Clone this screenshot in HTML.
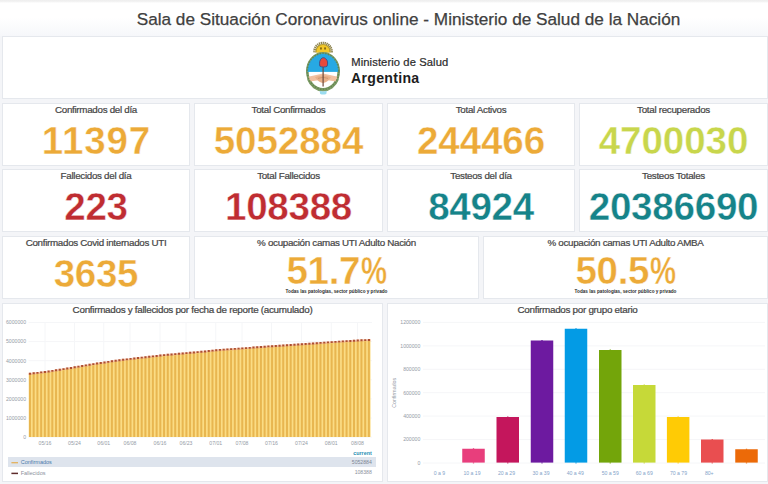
<!DOCTYPE html>
<html lang="es"><head><meta charset="utf-8"><title>Sala de Situación Coronavirus online</title>
<style>
*{margin:0;padding:0;box-sizing:border-box}
html,body{width:768px;height:484px;overflow:hidden}
body{background:#f4f5f8;font-family:"Liberation Sans",sans-serif;position:relative;color:#464646}
.topstrip{position:absolute;left:0;top:0;width:768px;height:3px;background:linear-gradient(#eee 0,#f3f3f3 1.6px,#fff 3px);z-index:2}
.nav{position:absolute;left:0;top:2px;width:768px;height:34px;background:linear-gradient(#fff 0,#fff 16px,#f6f7fa 34px)}
.title{position:absolute;left:136px;top:8px;width:545px;height:22px;line-height:22px;font-size:17.2px;white-space:nowrap;color:#404040;text-align:center;-webkit-text-stroke:.25px #404040}
.p{position:absolute;background:#fff;border:1px solid #e5e8ed}
.pt{position:absolute;left:0;right:0;top:-1.4px;height:14px;line-height:14px;font-size:9.8px;letter-spacing:-0.3px;-webkit-text-stroke:.22px #464646;text-align:center;white-space:nowrap;color:#464646}
.v{position:absolute;left:0;right:0;top:17.8px;height:38px;line-height:38px;font-size:38.6px;font-weight:bold;text-align:center;white-space:nowrap;-webkit-text-stroke:.4px #fff;letter-spacing:-.32px}
.v2{top:14.6px}
.pc{display:inline-block;transform:scaleX(.76);transform-origin:0 50%;margin-right:-8.2px;margin-left:.6px}
.sub{position:absolute;left:0;right:0;top:51.2px;height:8px;line-height:8px;font-size:4.65px;text-align:center;white-space:nowrap;color:#2a2a2a;font-weight:bold}
.ct{position:absolute;left:0;right:0;top:-1.3px;height:14px;line-height:14px;font-size:9.9px;letter-spacing:-0.3px;-webkit-text-stroke:.22px #464646;text-align:center;white-space:nowrap;color:#464646}
svg{position:absolute;left:0;top:0}
svg text{font-family:"Liberation Sans",sans-serif}
</style></head>
<body>
<div class="topstrip"></div><div class="nav"></div>
<div class="title">Sala de Situación Coronavirus online - Ministerio de Salud de la Nación</div>
<div class="p" style="left:2px;top:36px;width:766px;height:63px">
<svg width="764" height="61" viewBox="3 37 764 61">
<defs>
<clipPath id="ovc"><ellipse cx="323" cy="71.3" rx="15.4" ry="17.7"/></clipPath>
<clipPath id="sunc"><rect x="310" y="38" width="26" height="14.4"/></clipPath>
</defs>
<g clip-path="url(#sunc)">
<circle cx="323" cy="51.6" r="8.6" fill="none" stroke="#80743a" stroke-width="2.6" stroke-dasharray="1.3 .6" opacity=".9"/>
<circle cx="323" cy="51.6" r="7.6" fill="#b39a2c"/>
<circle cx="323" cy="51.4" r="6.4" fill="#f3c829"/>
<rect x="320" y="47.4" width="1.9" height="2.1" fill="#8a6a10"/>
<rect x="324.1" y="47.4" width="1.9" height="2.1" fill="#8a6a10"/>
</g>
<ellipse cx="323" cy="71.3" rx="15.7" ry="18" fill="#fff" stroke="#7c9b66" stroke-width="2.6"/>
<path d="M308.6 79 A15.7 18 0 0 0 337.4 79" fill="none" stroke="#7c9b66" stroke-width="3.3"/>
<g clip-path="url(#ovc)">
<rect x="305" y="50" width="36" height="21.9" fill="#27a9e3"/>
<path d="M307 77 L323 73.6 L339 77 L339 82 L323 79.6 L307 82Z" fill="#f2c0a0"/>
<path d="M315 77.2 Q323 73.4 331 77.2 Q327 82.6 323 83 Q319 82.6 315 77.2Z" fill="#e8b08a"/>
<path d="M318 78.4 Q323 76.2 328 78.4" stroke="#c98f68" stroke-width=".8" fill="none"/>
</g>
<path d="M323.1 67 L323.1 86.6" stroke="#6e4a3c" stroke-width="1.2" fill="none"/>
<path d="M319.9 66.2 C318.9 63 319.9 59 322.1 58 C323.5 57.4 325 57.8 325.8 58.9 C327.7 60 328.1 63.5 327.1 66.2 C325 67.3 322 67.3 319.9 66.2Z" fill="#e8483a" stroke="#35508f" stroke-width=".9"/>
<ellipse cx="323" cy="71.3" rx="15.7" ry="18" fill="none" stroke="#5d7d48" stroke-width="1.6" stroke-dasharray="1.3 1.5" opacity=".75"/>
<path d="M319.6 90.8 Q323.2 92.4 326.8 90.8 L326.3 93.9 Q323.2 95.2 320.2 93.9Z" fill="#9adcf0"/>
<text x="351.3" y="65.6" font-size="11.2" fill="#2c2c2c" letter-spacing="0.1" stroke="#2c2c2c" stroke-width=".22">Ministerio de Salud</text>
<text x="351" y="82.8" font-size="14.1" font-weight="bold" fill="#1d1d1d" letter-spacing="0.3">Argentina</text>
</svg>
</div>
<div class="p" style="left:2px;top:103px;width:188px;height:63px"><div class="pt">Confirmados del día</div><div class="v" style="color:#ecaa38;letter-spacing:0.8px;padding-left:0.8px">11397</div></div>
<div class="p" style="left:194px;top:103px;width:189px;height:63px"><div class="pt">Total Confirmados</div><div class="v" style="color:#ecaa38;letter-spacing:-0.1px;padding-left:-0.1px">5052884</div></div>
<div class="p" style="left:387px;top:103px;width:188px;height:63px"><div class="pt">Total Activos</div><div class="v" style="color:#ecaa38;letter-spacing:-0.1px;padding-left:-0.1px">244466</div></div>
<div class="p" style="left:579px;top:103px;width:189px;height:63px"><div class="pt">Total recuperados</div><div class="v" style="color:#c8d64c;letter-spacing:-0.1px;padding-left:-0.1px">4700030</div></div>
<div class="p" style="left:2px;top:169px;width:188px;height:63px"><div class="pt">Fallecidos del día</div><div class="v" style="color:#bf2d32">223</div></div>
<div class="p" style="left:194px;top:169px;width:189px;height:63px"><div class="pt">Total Fallecidos</div><div class="v" style="color:#bf2d32">108388</div></div>
<div class="p" style="left:387px;top:169px;width:188px;height:63px"><div class="pt">Testeos del día</div><div class="v" style="color:#168389">84924</div></div>
<div class="p" style="left:579px;top:169px;width:189px;height:63px"><div class="pt">Testeos Totales</div><div class="v" style="color:#168389;letter-spacing:-0.25px;padding-left:-0.25px">20386690</div></div>
<div class="p" style="left:2px;top:236px;width:188px;height:63px"><div class="pt">Confirmados Covid internados UTI</div><div class="v" style="color:#ecaa38">3635</div></div>
<div class="p" style="left:194px;top:236px;width:285px;height:63px"><div class="pt">% ocupación camas UTI Adulto Nación</div><div class="v v2" style="color:#ecaa38">51.7<span class=pc>%</span></div><div class="sub">Todas las patologías, sector público y privado</div></div>
<div class="p" style="left:483px;top:236px;width:285px;height:63px"><div class="pt">% ocupación camas UTI Adulto AMBA</div><div class="v v2" style="color:#ecaa38">50.5<span class=pc>%</span></div><div class="sub">Todas las patologías, sector público y privado</div></div>
<div class="p" style="left:2px;top:303px;width:381px;height:179px">
<div class="ct">Confirmados y fallecidos por fecha de reporte (acumulado)</div>
<svg width="379" height="177" viewBox="3 304 379 177">
<path d="M28.5 437.1H372" stroke="#f5f6f8" stroke-width="1"/>
<path d="M28.5 418.0H372" stroke="#f5f6f8" stroke-width="1"/>
<path d="M28.5 398.9H372" stroke="#f5f6f8" stroke-width="1"/>
<path d="M28.5 379.8H372" stroke="#f5f6f8" stroke-width="1"/>
<path d="M28.5 360.7H372" stroke="#f5f6f8" stroke-width="1"/>
<path d="M28.5 341.6H372" stroke="#f5f6f8" stroke-width="1"/>
<path d="M28.5 322.5H372" stroke="#f5f6f8" stroke-width="1"/>
<path d="M45 322.5V437.1" stroke="#f5f6f8" stroke-width="1"/>
<path d="M74.5 322.5V437.1" stroke="#f5f6f8" stroke-width="1"/>
<path d="M103.75 322.5V437.1" stroke="#f5f6f8" stroke-width="1"/>
<path d="M130 322.5V437.1" stroke="#f5f6f8" stroke-width="1"/>
<path d="M160 322.5V437.1" stroke="#f5f6f8" stroke-width="1"/>
<path d="M186 322.5V437.1" stroke="#f5f6f8" stroke-width="1"/>
<path d="M215.75 322.5V437.1" stroke="#f5f6f8" stroke-width="1"/>
<path d="M242 322.5V437.1" stroke="#f5f6f8" stroke-width="1"/>
<path d="M271.5 322.5V437.1" stroke="#f5f6f8" stroke-width="1"/>
<path d="M301.5 322.5V437.1" stroke="#f5f6f8" stroke-width="1"/>
<path d="M331.25 322.5V437.1" stroke="#f5f6f8" stroke-width="1"/>
<path d="M357.5 322.5V437.1" stroke="#f5f6f8" stroke-width="1"/>
<text x="26" y="438.9" font-size="5.15" text-anchor="end" fill="#959ba6">0</text>
<text x="26" y="419.8" font-size="5.15" text-anchor="end" fill="#959ba6">1000000</text>
<text x="26" y="400.7" font-size="5.15" text-anchor="end" fill="#959ba6">2000000</text>
<text x="26" y="381.6" font-size="5.15" text-anchor="end" fill="#959ba6">3000000</text>
<text x="26" y="362.5" font-size="5.15" text-anchor="end" fill="#959ba6">4000000</text>
<text x="26" y="343.4" font-size="5.15" text-anchor="end" fill="#959ba6">5000000</text>
<text x="26" y="324.3" font-size="5.15" text-anchor="end" fill="#959ba6">6000000</text>
<text x="45" y="444.9" font-size="5.15" text-anchor="middle" fill="#959ba6">05/16</text>
<text x="74.5" y="444.9" font-size="5.15" text-anchor="middle" fill="#959ba6">05/24</text>
<text x="103.75" y="444.9" font-size="5.15" text-anchor="middle" fill="#959ba6">06/01</text>
<text x="130" y="444.9" font-size="5.15" text-anchor="middle" fill="#959ba6">06/08</text>
<text x="160" y="444.9" font-size="5.15" text-anchor="middle" fill="#959ba6">06/16</text>
<text x="186" y="444.9" font-size="5.15" text-anchor="middle" fill="#959ba6">06/23</text>
<text x="215.75" y="444.9" font-size="5.15" text-anchor="middle" fill="#959ba6">07/01</text>
<text x="242" y="444.9" font-size="5.15" text-anchor="middle" fill="#959ba6">07/08</text>
<text x="271.5" y="444.9" font-size="5.15" text-anchor="middle" fill="#959ba6">07/16</text>
<text x="301.5" y="444.9" font-size="5.15" text-anchor="middle" fill="#959ba6">07/24</text>
<text x="331.25" y="444.9" font-size="5.15" text-anchor="middle" fill="#959ba6">08/01</text>
<text x="357.5" y="444.9" font-size="5.15" text-anchor="middle" fill="#959ba6">08/08</text>
<polygon points="28.8,437.1 28.76,374.19 31.56,374.19 32.48,373.75 35.28,373.75 36.21,373.30 39.01,373.30 39.93,372.85 42.73,372.85 43.66,372.40 46.46,372.40 47.38,371.91 50.18,371.91 51.11,371.33 53.91,371.33 54.83,370.74 57.63,370.74 58.56,370.15 61.36,370.15 62.28,369.57 65.08,369.57 66.01,368.98 68.81,368.98 69.73,368.39 72.53,368.39 73.46,367.76 76.26,367.76 77.18,367.12 79.98,367.12 80.90,366.48 83.70,366.48 84.63,365.85 87.43,365.85 88.35,365.21 91.15,365.21 92.08,364.57 94.88,364.57 95.80,364.00 98.60,364.00 99.53,363.44 102.33,363.44 103.25,362.88 106.05,362.88 106.98,362.32 109.78,362.32 110.70,361.77 113.50,361.77 114.43,361.21 117.23,361.21 118.15,360.70 120.95,360.70 121.88,360.26 124.68,360.26 125.60,359.82 128.40,359.82 129.32,359.37 132.12,359.37 133.05,358.93 135.85,358.93 136.77,358.48 139.57,358.48 140.50,358.04 143.30,358.04 144.22,357.63 147.02,357.63 147.95,357.22 150.75,357.22 151.67,356.80 154.47,356.80 155.40,356.39 158.20,356.39 159.12,355.98 161.92,355.98 162.85,355.56 165.65,355.56 166.57,355.22 169.37,355.22 170.30,354.88 173.10,354.88 174.02,354.55 176.82,354.55 177.74,354.21 180.54,354.21 181.47,353.88 184.27,353.88 185.19,353.54 187.99,353.54 188.92,353.21 191.72,353.21 192.64,352.89 195.44,352.89 196.37,352.56 199.17,352.56 200.09,352.24 202.89,352.24 203.82,351.89 206.62,351.89 207.54,351.51 210.34,351.51 211.27,351.12 214.07,351.12 214.99,350.73 217.79,350.73 218.72,350.36 221.52,350.36 222.44,350.11 225.24,350.11 226.16,349.86 228.96,349.86 229.89,349.60 232.69,349.60 233.61,349.35 236.41,349.35 237.34,349.10 240.14,349.10 241.06,348.84 243.86,348.84 244.79,348.56 247.59,348.56 248.51,348.28 251.31,348.28 252.24,347.99 255.04,347.99 255.96,347.70 258.76,347.70 259.69,347.42 262.49,347.42 263.41,347.13 266.21,347.13 267.14,346.87 269.94,346.87 270.86,346.63 273.66,346.63 274.58,346.39 277.38,346.39 278.31,346.15 281.11,346.15 282.03,345.91 284.83,345.91 285.76,345.68 288.56,345.68 289.48,345.43 292.28,345.43 293.21,345.18 296.01,345.18 296.93,344.93 299.73,344.93 300.66,344.67 303.46,344.67 304.38,344.42 307.18,344.42 308.11,344.17 310.91,344.17 311.83,343.91 314.63,343.91 315.56,343.64 318.36,343.64 319.28,343.37 322.08,343.37 323.00,343.10 325.80,343.10 326.73,342.83 329.53,342.83 330.45,342.56 333.25,342.56 334.18,342.29 336.98,342.29 337.90,342.05 340.70,342.05 341.63,341.83 344.43,341.83 345.35,341.60 348.15,341.60 349.08,341.38 351.88,341.38 352.80,341.16 355.60,341.16 356.53,340.94 359.33,340.94 360.25,340.73 363.05,340.73 363.98,340.56 366.78,340.56 367.70,340.38 370.50,340.38 370.6,437.1" fill="#fbdc84"/>
<polygon points="28.36,372.79 31.86,372.79 32.08,372.35 35.58,372.35 35.81,371.90 39.31,371.90 39.53,371.45 43.03,371.45 43.26,371.00 46.76,371.00 46.98,370.51 50.48,370.51 50.71,369.93 54.21,369.93 54.43,369.34 57.93,369.34 58.16,368.75 61.66,368.75 61.88,368.17 65.38,368.17 65.61,367.58 69.11,367.58 69.33,366.99 72.83,366.99 73.06,366.36 76.56,366.36 76.78,365.72 80.28,365.72 80.50,365.08 84.00,365.08 84.23,364.45 87.73,364.45 87.95,363.81 91.45,363.81 91.68,363.17 95.18,363.17 95.40,362.60 98.90,362.60 99.13,362.04 102.63,362.04 102.85,361.48 106.35,361.48 106.58,360.92 110.08,360.92 110.30,360.37 113.80,360.37 114.03,359.81 117.53,359.81 117.75,359.30 121.25,359.30 121.48,358.86 124.98,358.86 125.20,358.42 128.70,358.42 128.92,357.97 132.42,357.97 132.65,357.53 136.15,357.53 136.37,357.08 139.87,357.08 140.10,356.64 143.60,356.64 143.82,356.23 147.32,356.23 147.55,355.82 151.05,355.82 151.27,355.40 154.77,355.40 155.00,354.99 158.50,354.99 158.72,354.58 162.22,354.58 162.45,354.16 165.95,354.16 166.17,353.82 169.67,353.82 169.90,353.48 173.40,353.48 173.62,353.15 177.12,353.15 177.34,352.81 180.84,352.81 181.07,352.48 184.57,352.48 184.79,352.14 188.29,352.14 188.52,351.81 192.02,351.81 192.24,351.49 195.74,351.49 195.97,351.16 199.47,351.16 199.69,350.84 203.19,350.84 203.42,350.49 206.92,350.49 207.14,350.11 210.64,350.11 210.87,349.72 214.37,349.72 214.59,349.33 218.09,349.33 218.32,348.96 221.82,348.96 222.04,348.71 225.54,348.71 225.76,348.46 229.26,348.46 229.49,348.20 232.99,348.20 233.21,347.95 236.71,347.95 236.94,347.70 240.44,347.70 240.66,347.44 244.16,347.44 244.39,347.16 247.89,347.16 248.11,346.88 251.61,346.88 251.84,346.59 255.34,346.59 255.56,346.30 259.06,346.30 259.29,346.02 262.79,346.02 263.01,345.73 266.51,345.73 266.74,345.47 270.24,345.47 270.46,345.23 273.96,345.23 274.18,344.99 277.68,344.99 277.91,344.75 281.41,344.75 281.63,344.51 285.13,344.51 285.36,344.28 288.86,344.28 289.08,344.03 292.58,344.03 292.81,343.78 296.31,343.78 296.53,343.53 300.03,343.53 300.26,343.27 303.76,343.27 303.98,343.02 307.48,343.02 307.71,342.77 311.21,342.77 311.43,342.51 314.93,342.51 315.16,342.24 318.66,342.24 318.88,341.97 322.38,341.97 322.60,341.70 326.10,341.70 326.33,341.43 329.83,341.43 330.05,341.16 333.55,341.16 333.78,340.89 337.28,340.89 337.50,340.65 341.00,340.65 341.23,340.43 344.73,340.43 344.95,340.20 348.45,340.20 348.68,339.98 352.18,339.98 352.40,339.76 355.90,339.76 356.13,339.54 359.63,339.54 359.85,339.33 363.35,339.33 363.58,339.16 367.08,339.16 367.30,338.98 370.80,338.98 370.80,341.18 367.30,341.18 367.08,341.36 363.58,341.36 363.35,341.53 359.85,341.53 359.63,341.74 356.13,341.74 355.90,341.96 352.40,341.96 352.18,342.18 348.68,342.18 348.45,342.40 344.95,342.40 344.73,342.63 341.23,342.63 341.00,342.85 337.50,342.85 337.28,343.09 333.78,343.09 333.55,343.36 330.05,343.36 329.83,343.63 326.33,343.63 326.10,343.90 322.60,343.90 322.38,344.17 318.88,344.17 318.66,344.44 315.16,344.44 314.93,344.71 311.43,344.71 311.21,344.97 307.71,344.97 307.48,345.22 303.98,345.22 303.76,345.47 300.26,345.47 300.03,345.73 296.53,345.73 296.31,345.98 292.81,345.98 292.58,346.23 289.08,346.23 288.86,346.48 285.36,346.48 285.13,346.71 281.63,346.71 281.41,346.95 277.91,346.95 277.68,347.19 274.18,347.19 273.96,347.43 270.46,347.43 270.24,347.67 266.74,347.67 266.51,347.93 263.01,347.93 262.79,348.22 259.29,348.22 259.06,348.50 255.56,348.50 255.34,348.79 251.84,348.79 251.61,349.08 248.11,349.08 247.89,349.36 244.39,349.36 244.16,349.64 240.66,349.64 240.44,349.90 236.94,349.90 236.71,350.15 233.21,350.15 232.99,350.40 229.49,350.40 229.26,350.66 225.76,350.66 225.54,350.91 222.04,350.91 221.82,351.16 218.32,351.16 218.09,351.53 214.59,351.53 214.37,351.92 210.87,351.92 210.64,352.31 207.14,352.31 206.92,352.69 203.42,352.69 203.19,353.04 199.69,353.04 199.47,353.36 195.97,353.36 195.74,353.69 192.24,353.69 192.02,354.01 188.52,354.01 188.29,354.34 184.79,354.34 184.57,354.68 181.07,354.68 180.84,355.01 177.34,355.01 177.12,355.35 173.62,355.35 173.40,355.68 169.90,355.68 169.67,356.02 166.17,356.02 165.95,356.36 162.45,356.36 162.22,356.78 158.72,356.78 158.50,357.19 155.00,357.19 154.77,357.60 151.27,357.60 151.05,358.02 147.55,358.02 147.32,358.43 143.82,358.43 143.60,358.84 140.10,358.84 139.87,359.28 136.37,359.28 136.15,359.73 132.65,359.73 132.42,360.17 128.92,360.17 128.70,360.62 125.20,360.62 124.98,361.06 121.48,361.06 121.25,361.50 117.75,361.50 117.53,362.01 114.03,362.01 113.80,362.57 110.30,362.57 110.08,363.12 106.58,363.12 106.35,363.68 102.85,363.68 102.63,364.24 99.13,364.24 98.90,364.80 95.40,364.80 95.18,365.37 91.68,365.37 91.45,366.01 87.95,366.01 87.73,366.65 84.23,366.65 84.00,367.28 80.50,367.28 80.28,367.92 76.78,367.92 76.56,368.56 73.06,368.56 72.83,369.19 69.33,369.19 69.11,369.78 65.61,369.78 65.38,370.37 61.88,370.37 61.66,370.95 58.16,370.95 57.93,371.54 54.43,371.54 54.21,372.13 50.71,372.13 50.48,372.71 46.98,372.71 46.76,373.20 43.26,373.20 43.03,373.65 39.53,373.65 39.31,374.10 35.81,374.10 35.58,374.55 32.08,374.55 31.86,374.99 28.36,374.99" fill="#f0a98a" opacity=".6"/>
<path d="M28.96 374.79h2V437.1h-2zM32.68 374.35h2V437.1h-2zM36.41 373.90h2V437.1h-2zM40.13 373.45h2V437.1h-2zM43.86 373.00h2V437.1h-2zM47.58 372.51h2V437.1h-2zM51.31 371.93h2V437.1h-2zM55.03 371.34h2V437.1h-2zM58.76 370.75h2V437.1h-2zM62.48 370.17h2V437.1h-2zM66.21 369.58h2V437.1h-2zM69.93 368.99h2V437.1h-2zM73.66 368.36h2V437.1h-2zM77.38 367.72h2V437.1h-2zM81.10 367.08h2V437.1h-2zM84.83 366.45h2V437.1h-2zM88.55 365.81h2V437.1h-2zM92.28 365.17h2V437.1h-2zM96.00 364.60h2V437.1h-2zM99.73 364.04h2V437.1h-2zM103.45 363.48h2V437.1h-2zM107.18 362.92h2V437.1h-2zM110.90 362.37h2V437.1h-2zM114.63 361.81h2V437.1h-2zM118.35 361.30h2V437.1h-2zM122.08 360.86h2V437.1h-2zM125.80 360.42h2V437.1h-2zM129.52 359.97h2V437.1h-2zM133.25 359.53h2V437.1h-2zM136.97 359.08h2V437.1h-2zM140.70 358.64h2V437.1h-2zM144.42 358.23h2V437.1h-2zM148.15 357.82h2V437.1h-2zM151.87 357.40h2V437.1h-2zM155.60 356.99h2V437.1h-2zM159.32 356.58h2V437.1h-2zM163.05 356.16h2V437.1h-2zM166.77 355.82h2V437.1h-2zM170.50 355.48h2V437.1h-2zM174.22 355.15h2V437.1h-2zM177.94 354.81h2V437.1h-2zM181.67 354.48h2V437.1h-2zM185.39 354.14h2V437.1h-2zM189.12 353.81h2V437.1h-2zM192.84 353.49h2V437.1h-2zM196.57 353.16h2V437.1h-2zM200.29 352.84h2V437.1h-2zM204.02 352.49h2V437.1h-2zM207.74 352.11h2V437.1h-2zM211.47 351.72h2V437.1h-2zM215.19 351.33h2V437.1h-2zM218.92 350.96h2V437.1h-2zM222.64 350.71h2V437.1h-2zM226.36 350.46h2V437.1h-2zM230.09 350.20h2V437.1h-2zM233.81 349.95h2V437.1h-2zM237.54 349.70h2V437.1h-2zM241.26 349.44h2V437.1h-2zM244.99 349.16h2V437.1h-2zM248.71 348.88h2V437.1h-2zM252.44 348.59h2V437.1h-2zM256.16 348.30h2V437.1h-2zM259.89 348.02h2V437.1h-2zM263.61 347.73h2V437.1h-2zM267.34 347.47h2V437.1h-2zM271.06 347.23h2V437.1h-2zM274.78 346.99h2V437.1h-2zM278.51 346.75h2V437.1h-2zM282.23 346.51h2V437.1h-2zM285.96 346.28h2V437.1h-2zM289.68 346.03h2V437.1h-2zM293.41 345.78h2V437.1h-2zM297.13 345.53h2V437.1h-2zM300.86 345.27h2V437.1h-2zM304.58 345.02h2V437.1h-2zM308.31 344.77h2V437.1h-2zM312.03 344.51h2V437.1h-2zM315.76 344.24h2V437.1h-2zM319.48 343.97h2V437.1h-2zM323.20 343.70h2V437.1h-2zM326.93 343.43h2V437.1h-2zM330.65 343.16h2V437.1h-2zM334.38 342.89h2V437.1h-2zM338.10 342.65h2V437.1h-2zM341.83 342.43h2V437.1h-2zM345.55 342.20h2V437.1h-2zM349.28 341.98h2V437.1h-2zM353.00 341.76h2V437.1h-2zM356.73 341.54h2V437.1h-2zM360.45 341.33h2V437.1h-2zM364.18 341.16h2V437.1h-2zM367.90 340.98h2V437.1h-2z" fill="#e8b650"/>
<path d="M28.96 372.79h2.1v1.9h-2.1zM32.68 372.35h2.1v1.9h-2.1zM36.41 371.90h2.1v1.9h-2.1zM40.13 371.45h2.1v1.9h-2.1zM43.86 371.00h2.1v1.9h-2.1zM47.58 370.51h2.1v1.9h-2.1zM51.31 369.93h2.1v1.9h-2.1zM55.03 369.34h2.1v1.9h-2.1zM58.76 368.75h2.1v1.9h-2.1zM62.48 368.17h2.1v1.9h-2.1zM66.21 367.58h2.1v1.9h-2.1zM69.93 366.99h2.1v1.9h-2.1zM73.66 366.36h2.1v1.9h-2.1zM77.38 365.72h2.1v1.9h-2.1zM81.10 365.08h2.1v1.9h-2.1zM84.83 364.45h2.1v1.9h-2.1zM88.55 363.81h2.1v1.9h-2.1zM92.28 363.17h2.1v1.9h-2.1zM96.00 362.60h2.1v1.9h-2.1zM99.73 362.04h2.1v1.9h-2.1zM103.45 361.48h2.1v1.9h-2.1zM107.18 360.92h2.1v1.9h-2.1zM110.90 360.37h2.1v1.9h-2.1zM114.63 359.81h2.1v1.9h-2.1zM118.35 359.30h2.1v1.9h-2.1zM122.08 358.86h2.1v1.9h-2.1zM125.80 358.42h2.1v1.9h-2.1zM129.52 357.97h2.1v1.9h-2.1zM133.25 357.53h2.1v1.9h-2.1zM136.97 357.08h2.1v1.9h-2.1zM140.70 356.64h2.1v1.9h-2.1zM144.42 356.23h2.1v1.9h-2.1zM148.15 355.82h2.1v1.9h-2.1zM151.87 355.40h2.1v1.9h-2.1zM155.60 354.99h2.1v1.9h-2.1zM159.32 354.58h2.1v1.9h-2.1zM163.05 354.16h2.1v1.9h-2.1zM166.77 353.82h2.1v1.9h-2.1zM170.50 353.48h2.1v1.9h-2.1zM174.22 353.15h2.1v1.9h-2.1zM177.94 352.81h2.1v1.9h-2.1zM181.67 352.48h2.1v1.9h-2.1zM185.39 352.14h2.1v1.9h-2.1zM189.12 351.81h2.1v1.9h-2.1zM192.84 351.49h2.1v1.9h-2.1zM196.57 351.16h2.1v1.9h-2.1zM200.29 350.84h2.1v1.9h-2.1zM204.02 350.49h2.1v1.9h-2.1zM207.74 350.11h2.1v1.9h-2.1zM211.47 349.72h2.1v1.9h-2.1zM215.19 349.33h2.1v1.9h-2.1zM218.92 348.96h2.1v1.9h-2.1zM222.64 348.71h2.1v1.9h-2.1zM226.36 348.46h2.1v1.9h-2.1zM230.09 348.20h2.1v1.9h-2.1zM233.81 347.95h2.1v1.9h-2.1zM237.54 347.70h2.1v1.9h-2.1zM241.26 347.44h2.1v1.9h-2.1zM244.99 347.16h2.1v1.9h-2.1zM248.71 346.88h2.1v1.9h-2.1zM252.44 346.59h2.1v1.9h-2.1zM256.16 346.30h2.1v1.9h-2.1zM259.89 346.02h2.1v1.9h-2.1zM263.61 345.73h2.1v1.9h-2.1zM267.34 345.47h2.1v1.9h-2.1zM271.06 345.23h2.1v1.9h-2.1zM274.78 344.99h2.1v1.9h-2.1zM278.51 344.75h2.1v1.9h-2.1zM282.23 344.51h2.1v1.9h-2.1zM285.96 344.28h2.1v1.9h-2.1zM289.68 344.03h2.1v1.9h-2.1zM293.41 343.78h2.1v1.9h-2.1zM297.13 343.53h2.1v1.9h-2.1zM300.86 343.27h2.1v1.9h-2.1zM304.58 343.02h2.1v1.9h-2.1zM308.31 342.77h2.1v1.9h-2.1zM312.03 342.51h2.1v1.9h-2.1zM315.76 342.24h2.1v1.9h-2.1zM319.48 341.97h2.1v1.9h-2.1zM323.20 341.70h2.1v1.9h-2.1zM326.93 341.43h2.1v1.9h-2.1zM330.65 341.16h2.1v1.9h-2.1zM334.38 340.89h2.1v1.9h-2.1zM338.10 340.65h2.1v1.9h-2.1zM341.83 340.43h2.1v1.9h-2.1zM345.55 340.20h2.1v1.9h-2.1zM349.28 339.98h2.1v1.9h-2.1zM353.00 339.76h2.1v1.9h-2.1zM356.73 339.54h2.1v1.9h-2.1zM360.45 339.33h2.1v1.9h-2.1zM364.18 339.16h2.1v1.9h-2.1zM367.90 338.98h2.1v1.9h-2.1z" fill="#ad5030"/>
<text x="371.8" y="454.5" font-size="5.4" font-weight="bold" text-anchor="end" fill="#2a90b4">current</text>
<rect x="8" y="457" width="368" height="10" fill="#dee4ed"/>
<path d="M11.4 462.7h6.6" stroke="#e3b25e" stroke-width="1.3"/>
<text x="20.7" y="464" font-size="5.5" fill="#4a7aaa">Confirmados</text>
<text x="371.8" y="464" font-size="5.15" text-anchor="end" fill="#7d8593">5052884</text>
<path d="M11.4 473.4h6.6" stroke="#5e2b2b" stroke-width="1.5"/>
<text x="20.7" y="474.9" font-size="5.5" fill="#8a909b">Fallecidos</text>
<text x="371.8" y="474.4" font-size="5.15" text-anchor="end" fill="#8a909b">108388</text>
</svg>
</div>
<div class="p" style="left:387px;top:303px;width:381px;height:179px">
<div class="ct">Confirmados por grupo etario</div>
<svg width="379" height="177" viewBox="388 304 379 177">
<path d="M423 463.0H765" stroke="#f5f6f8" stroke-width="1"/>
<path d="M423 439.6H765" stroke="#f5f6f8" stroke-width="1"/>
<path d="M423 416.1H765" stroke="#f5f6f8" stroke-width="1"/>
<path d="M423 392.7H765" stroke="#f5f6f8" stroke-width="1"/>
<path d="M423 369.3H765" stroke="#f5f6f8" stroke-width="1"/>
<path d="M423 345.9H765" stroke="#f5f6f8" stroke-width="1"/>
<path d="M423 322.4H765" stroke="#f5f6f8" stroke-width="1"/>
<text x="420.3" y="464.8" font-size="5.15" text-anchor="end" fill="#959ba6">0</text>
<text x="420.3" y="441.4" font-size="5.15" text-anchor="end" fill="#959ba6">200000</text>
<text x="420.3" y="417.9" font-size="5.15" text-anchor="end" fill="#959ba6">400000</text>
<text x="420.3" y="394.5" font-size="5.15" text-anchor="end" fill="#959ba6">600000</text>
<text x="420.3" y="371.1" font-size="5.15" text-anchor="end" fill="#959ba6">800000</text>
<text x="420.3" y="347.7" font-size="5.15" text-anchor="end" fill="#959ba6">1000000</text>
<text x="420.3" y="324.2" font-size="5.15" text-anchor="end" fill="#959ba6">1200000</text>
<text transform="translate(396.2 392.8) rotate(-90)" font-size="5.3" text-anchor="middle" fill="#959ba6">Confirmados</text>
<text x="439.5" y="475.1" font-size="5.15" text-anchor="middle" fill="#84a3c9">0 a 9</text>
<rect x="462.25" y="448.75" width="22.5" height="13.85" fill="#e83e7c"/>
<rect x="472.85" y="448.25" width="1.3" height="1" fill="#e83e7c"/>
<rect x="472.85" y="462.4" width="1.3" height="1" fill="#e83e7c"/>
<text x="472" y="475.1" font-size="5.15" text-anchor="middle" fill="#84a3c9">10 a 19</text>
<rect x="496.5" y="417" width="22.5" height="45.60" fill="#c4165c"/>
<rect x="507.1" y="416.5" width="1.3" height="1" fill="#c4165c"/>
<rect x="507.1" y="462.4" width="1.3" height="1" fill="#c4165c"/>
<text x="506.5" y="475.1" font-size="5.15" text-anchor="middle" fill="#84a3c9">20 a 29</text>
<rect x="530.75" y="340.5" width="22.5" height="122.10" fill="#6d1aa0"/>
<rect x="541.35" y="340.0" width="1.3" height="1" fill="#6d1aa0"/>
<rect x="541.35" y="462.4" width="1.3" height="1" fill="#6d1aa0"/>
<text x="541" y="475.1" font-size="5.15" text-anchor="middle" fill="#84a3c9">30 a 39</text>
<rect x="564.75" y="328.75" width="22.5" height="133.85" fill="#039be5"/>
<rect x="575.35" y="328.25" width="1.3" height="1" fill="#039be5"/>
<rect x="575.35" y="462.4" width="1.3" height="1" fill="#039be5"/>
<text x="575.25" y="475.1" font-size="5.15" text-anchor="middle" fill="#84a3c9">40 a 49</text>
<rect x="599" y="350" width="22.5" height="112.60" fill="#73a50a"/>
<rect x="609.6" y="349.5" width="1.3" height="1" fill="#73a50a"/>
<rect x="609.6" y="462.4" width="1.3" height="1" fill="#73a50a"/>
<text x="610.25" y="475.1" font-size="5.15" text-anchor="middle" fill="#84a3c9">50 a 59</text>
<rect x="633" y="385" width="22.5" height="77.60" fill="#c6d938"/>
<rect x="643.6" y="384.5" width="1.3" height="1" fill="#c6d938"/>
<rect x="643.6" y="462.4" width="1.3" height="1" fill="#c6d938"/>
<text x="644.25" y="475.1" font-size="5.15" text-anchor="middle" fill="#84a3c9">60 a 69</text>
<rect x="666.9" y="417" width="22.5" height="45.60" fill="#ffcb05"/>
<rect x="677.5" y="416.5" width="1.3" height="1" fill="#ffcb05"/>
<rect x="677.5" y="462.4" width="1.3" height="1" fill="#ffcb05"/>
<text x="678.5" y="475.1" font-size="5.15" text-anchor="middle" fill="#84a3c9">70 a 79</text>
<rect x="701" y="439.5" width="22.5" height="23.10" fill="#e94e50"/>
<rect x="711.6" y="439.0" width="1.3" height="1" fill="#e94e50"/>
<rect x="711.6" y="462.4" width="1.3" height="1" fill="#e94e50"/>
<text x="709.25" y="475.1" font-size="5.15" text-anchor="middle" fill="#84a3c9">80+</text>
<rect x="735.25" y="449.25" width="22.5" height="13.35" fill="#ec6a08"/>
<rect x="745.85" y="448.75" width="1.3" height="1" fill="#ec6a08"/>
<rect x="745.85" y="462.4" width="1.3" height="1" fill="#ec6a08"/>
</svg>
</div>
</body></html>
